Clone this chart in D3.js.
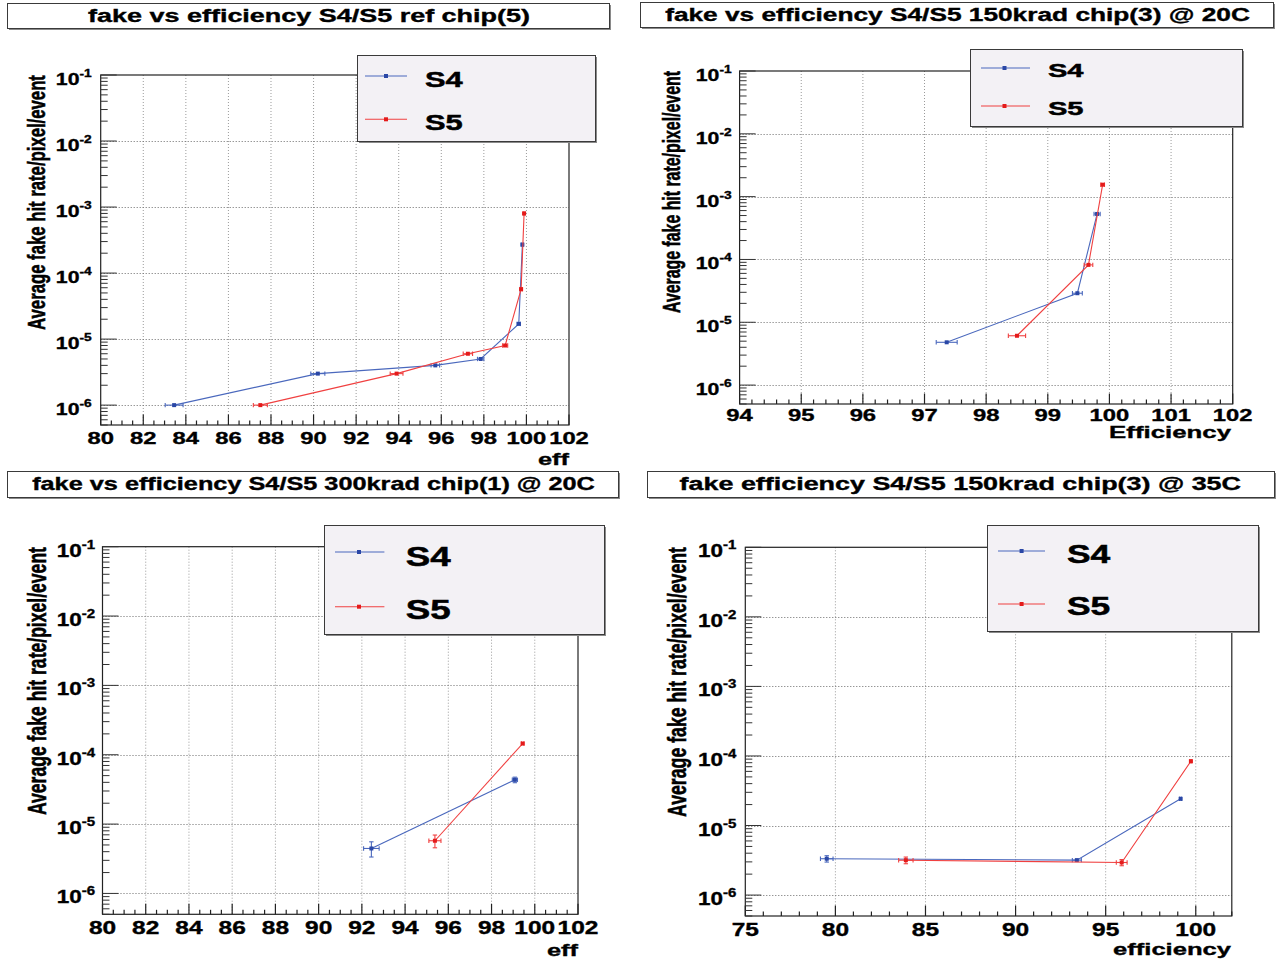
<!DOCTYPE html>
<html><head><meta charset="utf-8">
<script src="https://cdn.jsdelivr.net/npm/d3@7"></script>
<style>html,body{margin:0;padding:0;background:#fff;} svg{display:block;}</style>
</head><body>
<svg id="c" width="1277" height="964"></svg>
<script>
// ---------------- DATA ----------------
const titles = [
  "fake vs efficiency S4/S5 ref chip(5)",
  "fake vs efficiency S4/S5 150krad chip(3) @ 20C",
  "fake vs efficiency S4/S5 300krad chip(1) @ 20C",
  "fake efficiency S4/S5 150krad chip(3) @ 35C"
];
const xTitles = ["eff", "Efficiency", "eff", "efficiency"];
const yTitle = "Average fake hit rate/pixel/event";
const seriesNames = ["S4", "S5"];
const xTicks1 = [80, 82, 84, 86, 88, 90, 92, 94, 96, 98, 100, 102];
const xTicks2 = [94, 95, 96, 97, 98, 99, 100, 101, 102];
const xTicks3 = [80, 82, 84, 86, 88, 90, 92, 94, 96, 98, 100, 102];
const xTicks4 = [75, 80, 85, 90, 95, 100];
const yTickExp = [-1, -2, -3, -4, -5, -6];

// panel 1: ref chip(5)
const s4Eff1 = [83.45, 90.2, 95.72, 97.85, 99.64, 99.81];
const s4Fake1 = [1.0e-6, 3.0e-6, 4.0e-6, 5.0e-6, 1.7e-5, 2.7e-4];
const s4EffErr1 = [0.42, 0.33, 0.2, 0.15, 0.08, 0.05];
const s4FakeErr1 = [0.03e-6, 0.06e-6, 0.08e-6, 0.1e-6, 1.0e-6, 1.0e-5];
const s5Eff1 = [87.5, 93.9, 97.25, 99.0, 99.75, 99.89];
const s5Fake1 = [1.0e-6, 3.0e-6, 6.0e-6, 8.0e-6, 5.7e-5, 8.0e-4];
const s5EffErr1 = [0.33, 0.3, 0.22, 0.12, 0.05, 0.04];
const s5FakeErr1 = [0.03e-6, 0.06e-6, 0.1e-6, 0.15e-6, 2.0e-6, 2.0e-5];

// panel 2: 150krad chip(3) @ 20C
const s4Eff2 = [97.36, 99.48, 99.8];
const s4Fake2 = [4.8e-6, 2.9e-5, 5.3e-4];
const s4EffErr2 = [0.17, 0.08, 0.05];
const s4FakeErr2 = [0.2e-6, 0.6e-6, 1.5e-5];
const s5Eff2 = [98.5, 99.66, 99.89];
const s5Fake2 = [6.1e-6, 8.2e-5, 1.55e-3];
const s5EffErr2 = [0.14, 0.07, 0.03];
const s5FakeErr2 = [0.3e-6, 2.0e-6, 4.0e-5];

// panel 3: 300krad chip(1) @ 20C
const s4Eff3 = [92.44, 99.08];
const s4Fake3 = [4.45e-6, 4.35e-5];
const s4EffErr3 = [0.36, 0.12];
const s4FakeErr3 = [1.1e-6, 4.0e-6];
const s5Eff3 = [95.38, 99.44];
const s5Fake3 = [5.75e-6, 1.45e-4];
const s5EffErr3 = [0.28, 0.06];
const s5FakeErr3 = [1.2e-6, 5.0e-6];

// panel 4: 150krad chip(3) @ 35C
const s4Eff4 = [79.52, 93.4, 99.16];
const s4Fake4 = [3.33e-6, 3.18e-6, 2.42e-5];
const s4EffErr4 = [0.35, 0.25, 0.05];
const s4FakeErr4 = [0.35e-6, 0.2e-6, 0.3e-6];
const s5Eff4 = [83.91, 95.89, 99.73];
const s5Fake4 = [3.17e-6, 2.94e-6, 8.4e-5];
const s5EffErr4 = [0.4, 0.3, 0.05];
const s5FakeErr4 = [0.35e-6, 0.3e-6, 1.0e-6];

// ---------------- LAYOUT ----------------
const FONT = "'Liberation Sans', Arial, Helvetica, sans-serif";
const lineColors = ["#4a68bd", "#f04040"];
const markColors = ["#2a47a6", "#e41b1b"];

const panels = [
  { x0:100.7, x1:569, y0:75, y1:425, xdom:[80,102], xticks:xTicks1, minor:0.5, tickBase:18.5, tickFont:17,
    xtR:569, xtB:465, xtW:31, ylCx:36, ylCy:202.5, ylLen:255, ylFont:19, ytGap:9, ytFont:17,
    tbox:[7,3,609,28], tCx:309, tBase:21.7, tW:442,
    lbox:[357,55,595,141], rows:[[76,86.7],[119.3,130]], lx:[365,407], lm:386, ltx:425, ltw:37.7, lfont:22,
    s:[[s4Eff1,s4Fake1,s4EffErr1,s4FakeErr1],[s5Eff1,s5Fake1,s5EffErr1,s5FakeErr1]] },
  { x0:739.6, x1:1232.7, y0:71, y1:404, xdom:[94,102], xticks:xTicks2, minor:0.2, tickBase:17.2, tickFont:17,
    xtR:1231, xtB:438, xtW:122, ylCx:671, ylCy:192, ylLen:242, ylFont:19, ytGap:8, ytFont:17,
    tbox:[640,2,1273,27], tCx:957.5, tBase:20.5, tW:585,
    lbox:[970,49,1242,126], rows:[[68,76.7],[106,115]], lx:[981,1030], lm:1004.5, ltx:1048, ltw:35.5, lfont:19,
    s:[[s4Eff2,s4Fake2,s4EffErr2,s4FakeErr2],[s5Eff2,s5Fake2,s5EffErr2,s5FakeErr2]] },
  { x0:102.5, x1:578, y0:546.7, y1:914.3, xdom:[80,102], xticks:xTicks3, minor:0.5, tickBase:19.7, tickFont:17.5,
    xtR:578, xtB:956, xtW:31, ylCx:37, ylCy:681, ylLen:268, ylFont:20, ytGap:7.5, ytFont:18,
    tbox:[7,471,618,497], tCx:313.5, tBase:490, tW:563,
    lbox:[324,525,604,634], rows:[[552,565.7],[606.7,619]], lx:[335,384.4], lm:359, ltx:405.7, ltw:45, lfont:27,
    s:[[s4Eff3,s4Fake3,s4EffErr3,s4FakeErr3],[s5Eff3,s5Fake3,s5EffErr3,s5FakeErr3]] },
  { x0:745.3, x1:1231.8, y0:547.3, y1:916, xdom:[75,102], xticks:xTicks4, minor:1, tickBase:20, tickFont:17.5,
    xtR:1231, xtB:954.5, xtW:118, ylCx:677, ylCy:682, ylLen:270, ylFont:20, ytGap:9, ytFont:18,
    tbox:[647,471,1274,497], tCx:960.3, tBase:490, tW:561.6,
    lbox:[987,525,1258,631], rows:[[551,563],[604,615]], lx:[998,1045], lm:1021.6, ltx:1067, ltw:43.3, lfont:25.5,
    s:[[s4Eff4,s4Fake4,s4EffErr4,s4FakeErr4],[s5Eff4,s5Fake4,s5EffErr4,s5FakeErr4]] }
];

const svg = d3.select("#c");
svg.append("rect").attr("width",1277).attr("height",964).attr("fill","#fff");

function stext(parent, x, y, str, o) {
  const g = parent.append("g");
  const t = g.append("text").attr("font-family",FONT).attr("font-weight","bold")
    .attr("font-size",o.size).attr("text-anchor",o.anchor||"start").attr("fill","#000")
    .attr("stroke","#000").attr("stroke-width",o.sw === undefined ? 0.35 : o.sw);
  if (o.sup !== undefined) {
    t.append("tspan").text(str);
    t.append("tspan").attr("font-size",o.supSize).attr("dy",o.supDy).text(o.sup);
  } else t.text(str);
  const L = t.node().getComputedTextLength();
  if (o.rotate) {
    g.attr("transform",`translate(${x},${y}) scale(${o.thick||1},${o.length/L}) rotate(-90)`);
  } else {
    const sx = o.width ? o.width / L : (o.sx || 1);
    g.attr("transform",`translate(${x},${y}) scale(${sx},1)`);
  }
  return g;
}

function box(parent, b, fill, shadow) {
  const [x0,y0,x1,y1] = b;
  if (shadow) parent.append("rect").attr("x",x0+2).attr("y",y0+2).attr("width",x1-x0).attr("height",y1-y0).attr("fill","#8a8a8a");
  parent.append("rect").attr("x",x0+0.5).attr("y",y0+0.5).attr("width",x1-x0).attr("height",y1-y0)
    .attr("fill",fill).attr("stroke","#3a3a3a").attr("stroke-width",1);
}

panels.forEach((p, pi) => {
  const g = svg.append("g");
  const x = d3.scaleLinear().domain(p.xdom).range([p.x0, p.x1]);
  const y = d3.scaleLog().domain([5e-7, 0.1]).range([p.y1, p.y0]);

  // grid
  p.xticks.filter(v => v > p.xdom[0] && v < p.xdom[1]).forEach(v => {
    g.append("line").attr("x1",x(v)).attr("x2",x(v)).attr("y1",p.y0).attr("y2",p.y1)
      .attr("stroke","#9a9a9a").attr("stroke-width",1).attr("stroke-dasharray","1,2");
  });
  yTickExp.filter(e => e < -1).forEach(e => {
    const yy = Math.round(y(Math.pow(10,e))) + 0.5;
    g.append("line").attr("x1",p.x0).attr("x2",p.x1).attr("y1",yy).attr("y2",yy)
      .attr("stroke","#6a6a6a").attr("stroke-width",1).attr("stroke-dasharray","1,2");
  });

  // frame
  g.append("rect").attr("x",p.x0).attr("y",p.y0).attr("width",p.x1-p.x0).attr("height",p.y1-p.y0)
    .attr("fill","none").attr("stroke","#222").attr("stroke-width",1.2);

  // x ticks (ROOT style, inward)
  const nMinor = Math.round((p.xdom[1]-p.xdom[0])/p.minor);
  for (let i = 0; i <= nMinor; i++) {
    const v = p.xdom[0] + i*p.minor;
    const isMajor = p.xticks.some(t => Math.abs(t - v) < 1e-6);
    const len = isMajor ? 10.5 : 4.5;
    g.append("line").attr("x1",x(v)).attr("x2",x(v)).attr("y1",p.y1).attr("y2",p.y1-len)
      .attr("stroke","#222").attr("stroke-width",1.2);
  }
  // y ticks
  for (let e = -7; e <= -1; e++) {
    for (let k = 1; k <= 9; k++) {
      const v = k*Math.pow(10,e);
      if (v < 5e-7*0.999 || v > 0.1*1.001) continue;
      const len = k === 1 ? 16 : 7;
      const yy = y(v);
      g.append("line").attr("x1",p.x0).attr("x2",p.x0+len).attr("y1",yy).attr("y2",yy)
        .attr("stroke","#333").attr("stroke-width",1);
    }
  }

  // tick labels
  p.xticks.forEach(v => {
    stext(g, x(v), p.y1 + p.tickBase, String(v), {size:p.tickFont, anchor:"middle", sx:1.4});
  });
  yTickExp.forEach(e => {
    const yy = y(Math.pow(10,e));
    stext(g, p.x0 - p.ytGap, yy + 10, "10", {size:p.ytFont, anchor:"end", sx:1.25,
      sup:String(e), supSize:Math.round(p.ytFont*0.66), supDy:-8});
  });

  // axis titles
  stext(g, p.xtR, p.xtB, xTitles[pi], {size:16.5, anchor:"end", width:p.xtW});
  stext(g, p.ylCx + p.ylFont*0.45, p.ylCy, yTitle, {size:p.ylFont, anchor:"middle", rotate:true, length:p.ylLen, thick:1.3, sw:0.45});

  // data
  p.s.forEach((s, si) => {
    const [ex, fy, exErr, fyErr] = s;
    const pts = ex.map((v,i) => ({x:v, y:fy[i], ex:exErr[i], ey:fyErr[i]}));
    const line = d3.line().x(d => x(d.x)).y(d => y(d.y));
    g.append("path").attr("d", line(pts)).attr("fill","none")
      .attr("stroke", lineColors[si]).attr("stroke-width",1.1);
    pts.forEach(d => {
      const cx = x(d.x), cy = y(d.y);
      const xl = x(d.x - d.ex), xr = x(d.x + d.ex);
      const yt = y(d.y + d.ey), yb = y(Math.max(d.y - d.ey, 1e-9));
      const eg = g.append("g").attr("stroke", lineColors[si]).attr("stroke-width",1.1);
      eg.append("line").attr("x1",xl).attr("x2",xr).attr("y1",cy).attr("y2",cy);
      eg.append("line").attr("x1",xl).attr("x2",xl).attr("y1",cy-2.2).attr("y2",cy+2.2);
      eg.append("line").attr("x1",xr).attr("x2",xr).attr("y1",cy-2.2).attr("y2",cy+2.2);
      if (cy - yt > 2.5) {
        eg.append("line").attr("x1",cx).attr("x2",cx).attr("y1",yt).attr("y2",yb);
        eg.append("line").attr("x1",cx-2.2).attr("x2",cx+2.2).attr("y1",yt).attr("y2",yt);
        eg.append("line").attr("x1",cx-2.2).attr("x2",cx+2.2).attr("y1",yb).attr("y2",yb);
      }
      g.append("rect").attr("x",cx-2).attr("y",cy-2).attr("width",4).attr("height",4).attr("fill",markColors[si]);
    });
  });

  // legend
  box(g, p.lbox, "#f3f1f5", true);
  seriesNames.forEach((nm, si) => {
    const [ly, lb] = p.rows[si];
    g.append("line").attr("x1",p.lx[0]).attr("x2",p.lx[1]).attr("y1",ly).attr("y2",ly)
      .attr("stroke",lineColors[si]).attr("stroke-width",1.1);
    g.append("rect").attr("x",p.lm-2).attr("y",ly-2).attr("width",4).attr("height",4).attr("fill",markColors[si]);
    stext(g, p.ltx, lb, nm, {size:p.lfont, anchor:"start", width:p.ltw, sw:0.5});
  });

  // title
  box(g, p.tbox, "#fff", true);
  stext(g, p.tCx, p.tBase, titles[pi], {size:17.5, anchor:"middle", width:p.tW});
});
</script>
</body></html>
